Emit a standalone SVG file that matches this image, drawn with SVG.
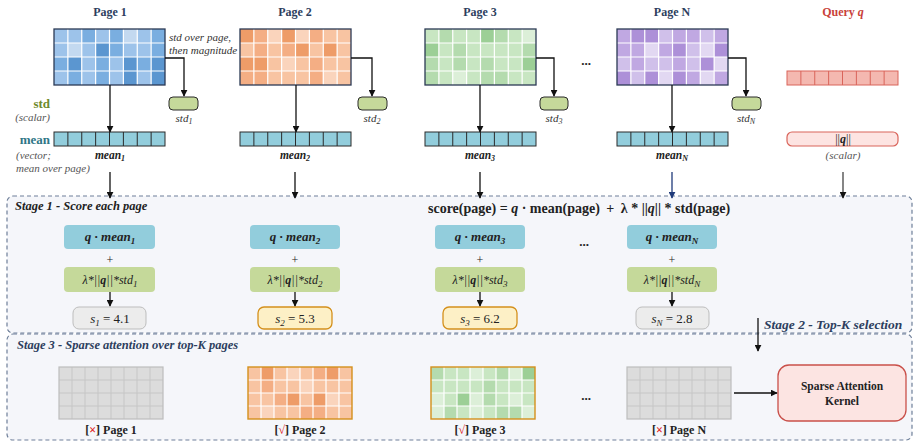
<svg xmlns="http://www.w3.org/2000/svg" xmlns:xlink="http://www.w3.org/1999/xlink" width="918" height="447" viewBox="0 0 918 447">
<style>
text{font-family:"Liberation Serif","Times New Roman",serif;fill:#222}
.t{font-size:12px;font-weight:bold;fill:#2d3e5e;text-anchor:middle}
.it{font-style:italic;font-size:11px;fill:#333}
.bi{font-style:italic;font-weight:bold;font-size:12px}
.m{text-anchor:middle}
.sub{font-size:8px}
.b0{fill:#c3d9f0}.b1{fill:#9dc3ea}.b2{fill:#7aaee0}.b3{fill:#5b96d0}
.o0{fill:#fad4bc}.o1{fill:#f8c4a2}.o2{fill:#f4ae84}.o3{fill:#ee9c68}
.g0{fill:#dcefd8}.g1{fill:#c8e6c2}.g2{fill:#b4dbae}.g3{fill:#9ccf96}
.p0{fill:#e2d8f2}.p1{fill:#d0c0ea}.p2{fill:#c0a8e2}.p3{fill:#ad90d8}
.wl{stroke:#fff;stroke-width:1.2;fill:none}
.gl{stroke:#c6c6c6;stroke-width:1;fill:none}
.brd{fill:none;stroke:#2b3a55;stroke-width:1.3}
.vec{fill:#92cddc;stroke:#2a2a2a;stroke-width:1}
.vl{stroke:#2a2a2a;stroke-width:1;fill:none}
.stdb{fill:#c5d99a;stroke:#2a2a2a;stroke-width:1}
.qm{fill:#92cddc}
.lam{fill:#c5d99a}
.sg{fill:#ececec;stroke:#bdbdbd;stroke-width:1}
.sy{fill:#fdf0c6;stroke:#d4901c;stroke-width:1.3}
.stage{fill:#f5f6fa;stroke:#6e7f99;stroke-width:1.2;stroke-dasharray:4 3}
.cn{stroke:#111;stroke-width:1.3;fill:none}
</style>
<defs>
<marker id="ah" viewBox="0 0 10 10" refX="9" refY="5" markerWidth="7" markerHeight="7" orient="auto" markerUnits="userSpaceOnUse"><path d="M0 0L10 5L0 10z" fill="#111"/></marker>
<marker id="ahn" viewBox="0 0 10 10" refX="9" refY="5" markerWidth="7" markerHeight="7" orient="auto" markerUnits="userSpaceOnUse"><path d="M0 0L10 5L0 10z" fill="#1f3a7a"/></marker>
<path id="gl" d="M13.875 0V56M27.75 0V56M41.625 0V56M55.5 0V56M69.375 0V56M83.25 0V56M97.125 0V56M0 14H111M0 28H111M0 42H111"/>
<path id="gs" d="M13 0V52M26 0V52M39 0V52M52 0V52M65 0V52M78 0V52M91 0V52M0 13H104M0 26H104M0 39H104"/>
<path id="vl" d="M13.875 0V14M27.75 0V14M41.625 0V14M55.5 0V14M69.375 0V14M83.25 0V14M97.125 0V14"/>
</defs>
<rect width="918" height="447" fill="#fff"/>

<g id="stage1-box"><rect class="stage" x="7" y="196" width="905" height="137" rx="6"/>
<text x="15" y="210" class="bi" style="font-size:12.5px">Stage 1 - Score each page</text>
<text x="428" y="213" style="font-weight:bold;font-size:14px">score(page) = <tspan font-style="italic">q</tspan> · mean(page) <tspan dx="3">+</tspan> <tspan dx="3">λ * ||</tspan><tspan font-style="italic">q</tspan>|| * std(page)</text>
<text x="764" y="329" class="bi" style="fill:#2d3e5e;font-size:13.5px">Stage 2 - Top-K selection</text>
</g>
<g id="stage3-box"><rect class="stage" x="7" y="334" width="905" height="106" rx="6"/>
<text x="17" y="349" class="bi" style="font-size:12.5px;fill:#2d3e5e">Stage 3 - Sparse attention over top-K pages</text>
</g>

<g id="legend">
<text x="50" y="108" text-anchor="end" style="font-weight:bold;font-size:13px;fill:#6f8a2e">std</text>
<text x="50" y="121" text-anchor="end" class="it" style="fill:#555">(scalar)</text>
<text x="50" y="144" text-anchor="end" style="font-weight:bold;font-size:13px;fill:#2f7686">mean</text>
<text x="16" y="159" class="it" style="fill:#555">(vector;</text>
<text x="16" y="172" class="it" style="fill:#555">mean over page)</text>
<text x="169" y="41" class="it">std over page,</text>
<text x="169" y="54" class="it">then magnitude</text>
</g>

<g id="page1">
<text x="110" y="16" class="t">Page 1</text>
<g transform="translate(54,29)">
<rect class="b1" x="0" y="0" width="13.875" height="14"/><rect class="b1" x="13.875" y="0" width="13.875" height="14"/><rect class="b2" x="27.75" y="0" width="13.875" height="14"/><rect class="b1" x="41.625" y="0" width="13.875" height="14"/><rect class="b2" x="55.5" y="0" width="13.875" height="14"/><rect class="b0" x="69.375" y="0" width="13.875" height="14"/><rect class="b1" x="83.25" y="0" width="13.875" height="14"/><rect class="b2" x="97.125" y="0" width="13.875" height="14"/>
<rect class="b1" x="0" y="14" width="13.875" height="14"/><rect class="b0" x="13.875" y="14" width="13.875" height="14"/><rect class="b1" x="27.75" y="14" width="13.875" height="14"/><rect class="b3" x="41.625" y="14" width="13.875" height="14"/><rect class="b2" x="55.5" y="14" width="13.875" height="14"/><rect class="b1" x="69.375" y="14" width="13.875" height="14"/><rect class="b1" x="83.25" y="14" width="13.875" height="14"/><rect class="b2" x="97.125" y="14" width="13.875" height="14"/>
<rect class="b2" x="0" y="28" width="13.875" height="14"/><rect class="b3" x="13.875" y="28" width="13.875" height="14"/><rect class="b1" x="27.75" y="28" width="13.875" height="14"/><rect class="b2" x="41.625" y="28" width="13.875" height="14"/><rect class="b1" x="55.5" y="28" width="13.875" height="14"/><rect class="b3" x="69.375" y="28" width="13.875" height="14"/><rect class="b2" x="83.25" y="28" width="13.875" height="14"/><rect class="b3" x="97.125" y="28" width="13.875" height="14"/>
<rect class="b1" x="0" y="42" width="13.875" height="14"/><rect class="b2" x="13.875" y="42" width="13.875" height="14"/><rect class="b1" x="27.75" y="42" width="13.875" height="14"/><rect class="b2" x="41.625" y="42" width="13.875" height="14"/><rect class="b1" x="55.5" y="42" width="13.875" height="14"/><rect class="b3" x="69.375" y="42" width="13.875" height="14"/><rect class="b1" x="83.25" y="42" width="13.875" height="14"/><rect class="b3" x="97.125" y="42" width="13.875" height="14"/>
<use xlink:href="#gl" class="wl"/><rect class="brd" width="111" height="56"/>
</g>
<rect class="stdb" x="169" y="97" width="29" height="13" rx="4"/>
<text x="184" y="122" class="it m">std<tspan class="sub" dy="2">1</tspan></text>
<g transform="translate(54,132)"><rect class="vec" width="111" height="14"/><use xlink:href="#vl" class="vl"/></g>
<text x="110" y="159" class="bi m" style="font-size:11.5px">mean<tspan class="sub" dy="2">1</tspan></text>
</g>

<g id="page2">
<text x="295" y="16" class="t">Page 2</text>
<g transform="translate(240,29)">
<rect class="o3" x="0" y="0" width="13.875" height="14"/><rect class="o2" x="13.875" y="0" width="13.875" height="14"/><rect class="o0" x="27.75" y="0" width="13.875" height="14"/><rect class="o3" x="41.625" y="0" width="13.875" height="14"/><rect class="o0" x="55.5" y="0" width="13.875" height="14"/><rect class="o2" x="69.375" y="0" width="13.875" height="14"/><rect class="o1" x="83.25" y="0" width="13.875" height="14"/><rect class="o1" x="97.125" y="0" width="13.875" height="14"/>
<rect class="o1" x="0" y="14" width="13.875" height="14"/><rect class="o2" x="13.875" y="14" width="13.875" height="14"/><rect class="o1" x="27.75" y="14" width="13.875" height="14"/><rect class="o2" x="41.625" y="14" width="13.875" height="14"/><rect class="o3" x="55.5" y="14" width="13.875" height="14"/><rect class="o1" x="69.375" y="14" width="13.875" height="14"/><rect class="o3" x="83.25" y="14" width="13.875" height="14"/><rect class="o1" x="97.125" y="14" width="13.875" height="14"/>
<rect class="o3" x="0" y="28" width="13.875" height="14"/><rect class="o3" x="13.875" y="28" width="13.875" height="14"/><rect class="o1" x="27.75" y="28" width="13.875" height="14"/><rect class="o0" x="41.625" y="28" width="13.875" height="14"/><rect class="o1" x="55.5" y="28" width="13.875" height="14"/><rect class="o2" x="69.375" y="28" width="13.875" height="14"/><rect class="o1" x="83.25" y="28" width="13.875" height="14"/><rect class="o1" x="97.125" y="28" width="13.875" height="14"/>
<rect class="o2" x="0" y="42" width="13.875" height="14"/><rect class="o2" x="13.875" y="42" width="13.875" height="14"/><rect class="o1" x="27.75" y="42" width="13.875" height="14"/><rect class="o1" x="41.625" y="42" width="13.875" height="14"/><rect class="o1" x="55.5" y="42" width="13.875" height="14"/><rect class="o2" x="69.375" y="42" width="13.875" height="14"/><rect class="o0" x="83.25" y="42" width="13.875" height="14"/><rect class="o1" x="97.125" y="42" width="13.875" height="14"/>
<use xlink:href="#gl" class="wl"/><rect class="brd" width="111" height="56"/>
</g>
<rect class="stdb" x="358" y="97" width="29" height="13" rx="4"/>
<text x="372" y="122" class="it m">std<tspan class="sub" dy="2">2</tspan></text>
<g transform="translate(240,132)"><rect class="vec" width="111" height="14"/><use xlink:href="#vl" class="vl"/></g>
<text x="295" y="159" class="bi m" style="font-size:11.5px">mean<tspan class="sub" dy="2">2</tspan></text>
</g>

<g id="page3">
<text x="480" y="16" class="t">Page 3</text>
<g transform="translate(425,29)">
<rect class="g1" x="0" y="0" width="13.875" height="14"/><rect class="g2" x="13.875" y="0" width="13.875" height="14"/><rect class="g1" x="27.75" y="0" width="13.875" height="14"/><rect class="g1" x="41.625" y="0" width="13.875" height="14"/><rect class="g3" x="55.5" y="0" width="13.875" height="14"/><rect class="g2" x="69.375" y="0" width="13.875" height="14"/><rect class="g1" x="83.25" y="0" width="13.875" height="14"/><rect class="g0" x="97.125" y="0" width="13.875" height="14"/>
<rect class="g3" x="0" y="14" width="13.875" height="14"/><rect class="g1" x="13.875" y="14" width="13.875" height="14"/><rect class="g2" x="27.75" y="14" width="13.875" height="14"/><rect class="g1" x="41.625" y="14" width="13.875" height="14"/><rect class="g1" x="55.5" y="14" width="13.875" height="14"/><rect class="g1" x="69.375" y="14" width="13.875" height="14"/><rect class="g1" x="83.25" y="14" width="13.875" height="14"/><rect class="g2" x="97.125" y="14" width="13.875" height="14"/>
<rect class="g2" x="0" y="28" width="13.875" height="14"/><rect class="g1" x="13.875" y="28" width="13.875" height="14"/><rect class="g2" x="27.75" y="28" width="13.875" height="14"/><rect class="g1" x="41.625" y="28" width="13.875" height="14"/><rect class="g2" x="55.5" y="28" width="13.875" height="14"/><rect class="g1" x="69.375" y="28" width="13.875" height="14"/><rect class="g1" x="83.25" y="28" width="13.875" height="14"/><rect class="g3" x="97.125" y="28" width="13.875" height="14"/>
<rect class="g2" x="0" y="42" width="13.875" height="14"/><rect class="g1" x="13.875" y="42" width="13.875" height="14"/><rect class="g0" x="27.75" y="42" width="13.875" height="14"/><rect class="g1" x="41.625" y="42" width="13.875" height="14"/><rect class="g2" x="55.5" y="42" width="13.875" height="14"/><rect class="g2" x="69.375" y="42" width="13.875" height="14"/><rect class="g1" x="83.25" y="42" width="13.875" height="14"/><rect class="g1" x="97.125" y="42" width="13.875" height="14"/>
<use xlink:href="#gl" class="wl"/><rect class="brd" width="111" height="56"/>
</g>
<rect class="stdb" x="540" y="97" width="28" height="13" rx="4"/>
<text x="554" y="122" class="it m">std<tspan class="sub" dy="2">3</tspan></text>
<g transform="translate(425,132)"><rect class="vec" width="111" height="14"/><use xlink:href="#vl" class="vl"/></g>
<text x="480" y="159" class="bi m" style="font-size:11.5px">mean<tspan class="sub" dy="2">3</tspan></text>
</g>

<g id="dots-top"><text x="586" y="65" class="m" style="font-weight:bold;font-size:13px">...</text></g>

<g id="pageN">
<text x="672" y="16" class="t">Page N</text>
<g transform="translate(617,29)">
<rect class="p2" x="0" y="0" width="13.875" height="14"/><rect class="p3" x="13.875" y="0" width="13.875" height="14"/><rect class="p3" x="27.75" y="0" width="13.875" height="14"/><rect class="p1" x="41.625" y="0" width="13.875" height="14"/><rect class="p2" x="55.5" y="0" width="13.875" height="14"/><rect class="p2" x="69.375" y="0" width="13.875" height="14"/><rect class="p1" x="83.25" y="0" width="13.875" height="14"/><rect class="p2" x="97.125" y="0" width="13.875" height="14"/>
<rect class="p2" x="0" y="14" width="13.875" height="14"/><rect class="p2" x="13.875" y="14" width="13.875" height="14"/><rect class="p0" x="27.75" y="14" width="13.875" height="14"/><rect class="p2" x="41.625" y="14" width="13.875" height="14"/><rect class="p3" x="55.5" y="14" width="13.875" height="14"/><rect class="p1" x="69.375" y="14" width="13.875" height="14"/><rect class="p0" x="83.25" y="14" width="13.875" height="14"/><rect class="p3" x="97.125" y="14" width="13.875" height="14"/>
<rect class="p1" x="0" y="28" width="13.875" height="14"/><rect class="p2" x="13.875" y="28" width="13.875" height="14"/><rect class="p1" x="27.75" y="28" width="13.875" height="14"/><rect class="p1" x="41.625" y="28" width="13.875" height="14"/><rect class="p2" x="55.5" y="28" width="13.875" height="14"/><rect class="p1" x="69.375" y="28" width="13.875" height="14"/><rect class="p3" x="83.25" y="28" width="13.875" height="14"/><rect class="p0" x="97.125" y="28" width="13.875" height="14"/>
<rect class="p3" x="0" y="42" width="13.875" height="14"/><rect class="p1" x="13.875" y="42" width="13.875" height="14"/><rect class="p3" x="27.75" y="42" width="13.875" height="14"/><rect class="p0" x="41.625" y="42" width="13.875" height="14"/><rect class="p3" x="55.5" y="42" width="13.875" height="14"/><rect class="p2" x="69.375" y="42" width="13.875" height="14"/><rect class="p0" x="83.25" y="42" width="13.875" height="14"/><rect class="p2" x="97.125" y="42" width="13.875" height="14"/>
<use xlink:href="#gl" class="wl"/><rect class="brd" width="111" height="56"/>
</g>
<rect class="stdb" x="732" y="97" width="29" height="13" rx="4"/>
<text x="746" y="122" class="it m">std<tspan class="sub" dy="2">N</tspan></text>
<g transform="translate(617,132)"><rect class="vec" width="111" height="14"/><use xlink:href="#vl" class="vl"/></g>
<text x="672" y="159" class="bi m" style="font-size:11.5px">mean<tspan class="sub" dy="2">N</tspan></text>
</g>

<g id="query">
<text x="843" y="16" class="m" style="font-weight:bold;font-size:12px;fill:#c9413a">Query <tspan font-style="italic">q</tspan></text>
<g transform="translate(787,71)"><rect width="111" height="14" fill="#f4b8b0" stroke="#d9645a" stroke-width="1"/><use xlink:href="#vl" stroke="#d9645a" stroke-width="1" fill="none"/></g>
<rect x="787" y="132" width="111" height="14" rx="5" fill="#fde4e2" stroke="#d9645a" stroke-width="1.2"/>
<text x="843" y="143" class="m" style="font-size:12px">||<tspan font-weight="bold" font-style="italic">q</tspan>||</text>
<text x="843" y="159" class="it m" style="fill:#555">(scalar)</text>
</g>

<g id="score1">
<rect class="qm" x="64" y="225" width="91" height="24" rx="4"/>
<text x="110" y="241" class="bi m" style="font-size:13px">q · mean<tspan class="sub" style="font-size:9px" dy="3">1</tspan></text>
<text x="110" y="264" class="m" style="font-size:12px">+</text>
<rect class="lam" x="64" y="267" width="91" height="25" rx="4"/>
<text x="110" y="284" class="m" style="font-size:12px;font-style:italic">λ*||<tspan font-weight="bold">q</tspan>||*std<tspan style="font-size:9px" dy="3">1</tspan></text>
<rect class="sg" x="73" y="307" width="73" height="22" rx="6"/>
<text x="110" y="323" class="m" style="font-size:13px"><tspan font-style="italic">s</tspan><tspan style="font-size:9px;font-style:italic" dy="3">1</tspan><tspan dy="-3"> = 4.1</tspan></text>
</g>
<g id="score2">
<rect class="qm" x="250" y="225" width="90" height="24" rx="4"/>
<text x="295" y="241" class="bi m" style="font-size:13px">q · mean<tspan style="font-size:9px" dy="3">2</tspan></text>
<text x="295" y="264" class="m" style="font-size:12px">+</text>
<rect class="lam" x="250" y="267" width="90" height="25" rx="4"/>
<text x="295" y="284" class="m" style="font-size:12px;font-style:italic">λ*||<tspan font-weight="bold">q</tspan>||*std<tspan style="font-size:9px" dy="3">2</tspan></text>
<rect class="sy" x="258" y="307" width="74" height="22" rx="6"/>
<text x="295" y="323" class="m" style="font-size:13px"><tspan font-style="italic">s</tspan><tspan style="font-size:9px;font-style:italic" dy="3">2</tspan><tspan dy="-3"> = 5.3</tspan></text>
</g>
<g id="score3">
<rect class="qm" x="435" y="225" width="90" height="24" rx="4"/>
<text x="480" y="241" class="bi m" style="font-size:13px">q · mean<tspan style="font-size:9px" dy="3">3</tspan></text>
<text x="480" y="264" class="m" style="font-size:12px">+</text>
<rect class="lam" x="435" y="267" width="90" height="25" rx="4"/>
<text x="480" y="284" class="m" style="font-size:12px;font-style:italic">λ*||<tspan font-weight="bold">q</tspan>||*std<tspan style="font-size:9px" dy="3">3</tspan></text>
<rect class="sy" x="443" y="307" width="74" height="22" rx="6"/>
<text x="480" y="323" class="m" style="font-size:13px"><tspan font-style="italic">s</tspan><tspan style="font-size:9px;font-style:italic" dy="3">3</tspan><tspan dy="-3"> = 6.2</tspan></text>
</g>
<g id="dots-mid"><text x="584" y="246" class="m" style="font-weight:bold;font-size:13px">...</text></g>
<g id="scoreN">
<rect class="qm" x="627" y="225" width="90" height="24" rx="4"/>
<text x="672" y="241" class="bi m" style="font-size:13px">q · mean<tspan style="font-size:9px" dy="3">N</tspan></text>
<text x="672" y="264" class="m" style="font-size:12px">+</text>
<rect class="lam" x="627" y="267" width="90" height="25" rx="4"/>
<text x="672" y="284" class="m" style="font-size:12px;font-style:italic">λ*||<tspan font-weight="bold">q</tspan>||*std<tspan style="font-size:9px" dy="3">N</tspan></text>
<rect class="sg" x="636" y="307" width="73" height="22" rx="6"/>
<text x="672" y="323" class="m" style="font-size:13px"><tspan font-style="italic">s</tspan><tspan style="font-size:9px;font-style:italic" dy="3">N</tspan><tspan dy="-3"> = 2.8</tspan></text>
</g>

<g id="sel1">
<g transform="translate(59,367)"><rect width="104" height="52" fill="#dcdcdc"/><use xlink:href="#gs" class="gl"/><rect width="104" height="52" fill="none" stroke="#bdbdbd" stroke-width="1.2"/></g>
<text x="111" y="434" class="m" style="font-weight:bold;font-size:12px">[<tspan fill="#e02020">×</tspan>] Page 1</text>
</g>
<g id="sel2">
<g transform="translate(248,367)">
<rect class="o1" x="0" y="0" width="13" height="13"/><rect class="o3" x="13" y="0" width="13" height="13"/><rect class="o1" x="26" y="0" width="13" height="13"/><rect class="o0" x="39" y="0" width="13" height="13"/><rect class="o1" x="52" y="0" width="13" height="13"/><rect class="o2" x="65" y="0" width="13" height="13"/><rect class="o3" x="78" y="0" width="13" height="13"/><rect class="o1" x="91" y="0" width="13" height="13"/>
<rect class="o1" x="0" y="13" width="13" height="13"/><rect class="o2" x="13" y="13" width="13" height="13"/><rect class="o1" x="26" y="13" width="13" height="13"/><rect class="o1" x="39" y="13" width="13" height="13"/><rect class="o0" x="52" y="13" width="13" height="13"/><rect class="o1" x="65" y="13" width="13" height="13"/><rect class="o1" x="78" y="13" width="13" height="13"/><rect class="o1" x="91" y="13" width="13" height="13"/>
<rect class="o1" x="0" y="26" width="13" height="13"/><rect class="o1" x="13" y="26" width="13" height="13"/><rect class="o2" x="26" y="26" width="13" height="13"/><rect class="o3" x="39" y="26" width="13" height="13"/><rect class="o1" x="52" y="26" width="13" height="13"/><rect class="o3" x="65" y="26" width="13" height="13"/><rect class="o0" x="78" y="26" width="13" height="13"/><rect class="o1" x="91" y="26" width="13" height="13"/>
<rect class="o1" x="0" y="39" width="13" height="13"/><rect class="o0" x="13" y="39" width="13" height="13"/><rect class="o1" x="26" y="39" width="13" height="13"/><rect class="o1" x="39" y="39" width="13" height="13"/><rect class="o2" x="52" y="39" width="13" height="13"/><rect class="o2" x="65" y="39" width="13" height="13"/><rect class="o1" x="78" y="39" width="13" height="13"/><rect class="o1" x="91" y="39" width="13" height="13"/>
<use xlink:href="#gs" class="wl"/><rect width="104" height="52" fill="none" stroke="#d4901c" stroke-width="1.4"/></g>
<text x="300" y="434" class="m" style="font-weight:bold;font-size:12px">[<tspan fill="#e02020">√</tspan>] Page 2</text>
</g>
<g id="sel3">
<g transform="translate(431,367)">
<rect class="g2" x="0" y="0" width="13" height="13"/><rect class="g1" x="13" y="0" width="13" height="13"/><rect class="g1" x="26" y="0" width="13" height="13"/><rect class="g0" x="39" y="0" width="13" height="13"/><rect class="g1" x="52" y="0" width="13" height="13"/><rect class="g2" x="65" y="0" width="13" height="13"/><rect class="g0" x="78" y="0" width="13" height="13"/><rect class="g3" x="91" y="0" width="13" height="13"/>
<rect class="g1" x="0" y="13" width="13" height="13"/><rect class="g1" x="13" y="13" width="13" height="13"/><rect class="g1" x="26" y="13" width="13" height="13"/><rect class="g1" x="39" y="13" width="13" height="13"/><rect class="g2" x="52" y="13" width="13" height="13"/><rect class="g1" x="65" y="13" width="13" height="13"/><rect class="g1" x="78" y="13" width="13" height="13"/><rect class="g1" x="91" y="13" width="13" height="13"/>
<rect class="g0" x="0" y="26" width="13" height="13"/><rect class="g1" x="13" y="26" width="13" height="13"/><rect class="g3" x="26" y="26" width="13" height="13"/><rect class="g0" x="39" y="26" width="13" height="13"/><rect class="g2" x="52" y="26" width="13" height="13"/><rect class="g1" x="65" y="26" width="13" height="13"/><rect class="g0" x="78" y="26" width="13" height="13"/><rect class="g1" x="91" y="26" width="13" height="13"/>
<rect class="g0" x="0" y="39" width="13" height="13"/><rect class="g2" x="13" y="39" width="13" height="13"/><rect class="g1" x="26" y="39" width="13" height="13"/><rect class="g0" x="39" y="39" width="13" height="13"/><rect class="g1" x="52" y="39" width="13" height="13"/><rect class="g2" x="65" y="39" width="13" height="13"/><rect class="g2" x="78" y="39" width="13" height="13"/><rect class="g0" x="91" y="39" width="13" height="13"/>
<use xlink:href="#gs" class="wl"/><rect width="104" height="52" fill="none" stroke="#d4901c" stroke-width="1.4"/></g>
<text x="480" y="434" class="m" style="font-weight:bold;font-size:12px">[<tspan fill="#e02020">√</tspan>] Page 3</text>
</g>
<g id="dots-bottom"><text x="586" y="400" class="m" style="font-weight:bold;font-size:13px">...</text></g>
<g id="selN">
<g transform="translate(627,367)"><rect width="104" height="52" fill="#dcdcdc"/><use xlink:href="#gs" class="gl"/><rect width="104" height="52" fill="none" stroke="#bdbdbd" stroke-width="1.2"/></g>
<text x="679" y="434" class="m" style="font-weight:bold;font-size:12px">[<tspan fill="#e02020">×</tspan>] Page N</text>
</g>
<g id="kernel">
<rect x="778" y="365" width="128" height="56" rx="11" fill="#fce4e2" stroke="#c9504a" stroke-width="1.3"/>
<text x="842" y="390" class="m" style="font-weight:bold;font-size:11.5px">Sparse Attention</text>
<text x="842" y="405" class="m" style="font-weight:bold;font-size:11.5px">Kernel</text>
</g>

<g id="connectors">
<path class="cn" d="M165 58H184V96" marker-end="url(#ah)"/>
<path class="cn" d="M351 58H372V96" marker-end="url(#ah)"/>
<path class="cn" d="M536 58H554V96" marker-end="url(#ah)"/>
<path class="cn" d="M728 58H746V96" marker-end="url(#ah)"/>
<path class="cn" d="M110 85V132" marker-end="url(#ah)"/>
<path class="cn" d="M296 85V132" marker-end="url(#ah)"/>
<path class="cn" d="M480 85V132" marker-end="url(#ah)"/>
<path class="cn" d="M672 85V132" marker-end="url(#ah)"/>
<path class="cn" d="M110 172V198" marker-end="url(#ah)"/>
<path class="cn" d="M295 172V198" marker-end="url(#ah)"/>
<path class="cn" d="M480 172V198" marker-end="url(#ah)"/>
<path d="M672 172V198" stroke="#1f3a7a" stroke-width="1.3" fill="none" marker-end="url(#ahn)"/>
<path d="M843 172V198" stroke="#444" stroke-width="1.3" fill="none" marker-end="url(#ah)"/>
<path class="cn" d="M110 292V306" marker-end="url(#ah)"/>
<path class="cn" d="M295 292V306" marker-end="url(#ah)"/>
<path class="cn" d="M480 292V306" marker-end="url(#ah)"/>
<path class="cn" d="M672 292V306" marker-end="url(#ah)"/>
<path class="cn" d="M758 318V351" marker-end="url(#ah)"/>
<path class="cn" d="M734 393H777" marker-end="url(#ah)"/>
</g>
</svg>
